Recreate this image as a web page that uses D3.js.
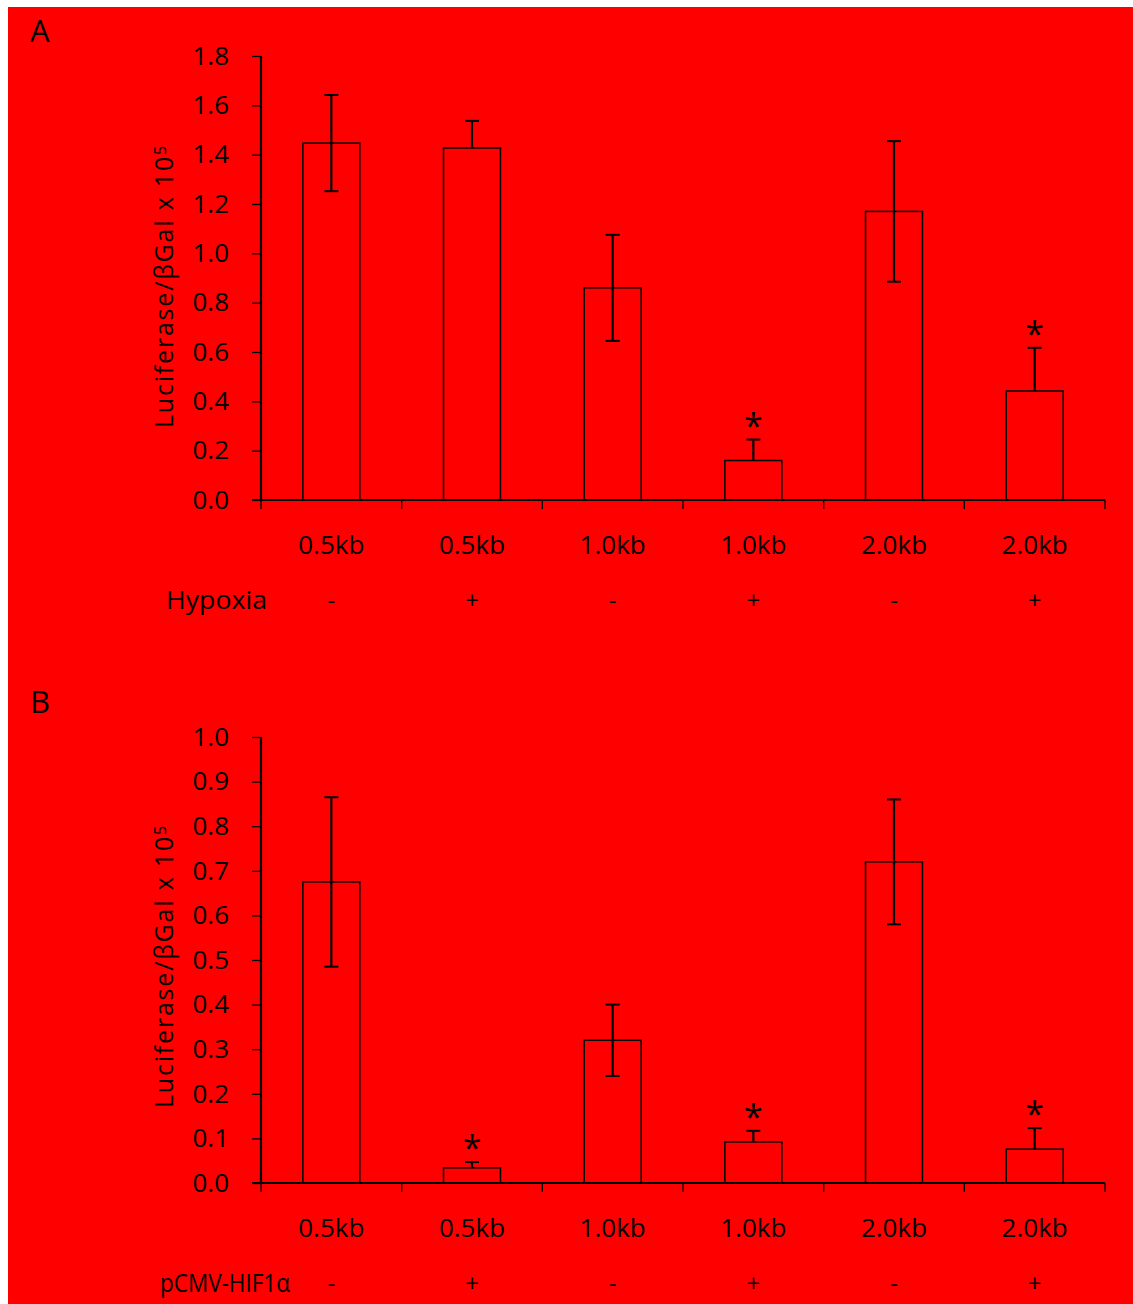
<!DOCTYPE html>
<html>
<head>
<meta charset="utf-8">
<script src="https://cdn.jsdelivr.net/npm/d3@7"></script>
<style>
  body { margin: 0; background: #fff; }
  text { font-family: "Open Sans", "Liberation Sans", Arial, sans-serif; fill: #000; }
</style>
</head>
<body>
<div id="myDiv"></div>
<script>
// Categories shared by both panels
var categories = ["0.5kb", "0.5kb", "1.0kb", "1.0kb", "2.0kb", "2.0kb"];
var signs = ["-", "+", "-", "+", "-", "+"];

// Panel A - hypoxia
var valuesA = [1.447, 1.427, 0.86, 0.16, 1.17, 0.442];
var errorsA = [0.195, 0.11, 0.215, 0.085, 0.285, 0.175];
var lowerA = [true, false, true, false, true, false];
var starsA = [false, false, false, true, false, true];
var ticksA = [0.0, 0.2, 0.4, 0.6, 0.8, 1.0, 1.2, 1.4, 1.6, 1.8];

// Panel B - pCMV-HIF1a
var valuesB = [0.675, 0.034, 0.32, 0.092, 0.72, 0.076];
var errorsB = [0.19, 0.013, 0.08, 0.025, 0.14, 0.047];
var lowerB = [true, false, true, false, true, false];
var starsB = [false, true, false, true, false, true];
var ticksB = [0.0, 0.1, 0.2, 0.3, 0.4, 0.5, 0.6, 0.7, 0.8, 0.9, 1.0];

var width = 1133;
var height = 1304;

var svg = d3.select("#myDiv")
    .append("svg")
    .attr("width", width)
    .attr("height", height);

// red background with the small white border top / left
svg.append("rect")
    .attr("x", 8).attr("y", 7)
    .attr("width", width - 8).attr("height", height - 7)
    .attr("fill", "#ff0000");

function drawPanel(opts) {
    var g = svg.append("g");

    var x = d3.scaleBand()
        .domain(d3.range(categories.length))
        .range([261, 1105])
        .paddingInner(0)
        .paddingOuter(0);

    var y = d3.scaleLinear()
        .domain([0, opts.max])
        .range([opts.bottom, opts.top]);

    var barW = x.bandwidth() * 0.405;

    // panel letter
    g.append("text")
        .attr("x", 30)
        .attr("y", opts.letterY)
        .attr("font-size", "31px")
        .text(opts.letter);

    // y axis
    var yAxis = d3.axisLeft(y)
        .tickValues(opts.ticks)
        .tickFormat(d3.format(".1f"))
        .tickSize(9)
        .tickPadding(23);

    var ya = g.append("g")
        .attr("transform", "translate(261,0)")
        .call(yAxis);
    ya.select(".domain").attr("stroke", "#000").attr("stroke-width", 2.2)
        .attr("d", "M0," + opts.top + "V" + opts.bottom);
    ya.selectAll(".tick line").attr("stroke", "#000").attr("stroke-width", 1.3);
    ya.selectAll(".tick text")
        .attr("font-size", "26px")
        .attr("font-family", "Open Sans, Liberation Sans, sans-serif")
        .attr("fill", "#000");

    // x axis line with ticks at the category boundaries
    g.append("line")
        .attr("x1", 252).attr("x2", 1105)
        .attr("y1", opts.bottom).attr("y2", opts.bottom)
        .attr("stroke", "#000").attr("stroke-width", 2.2);

    var bounds = d3.range(categories.length + 1).map(function (i) {
        return i < categories.length ? x(i) : x(i - 1) + x.bandwidth();
    });
    g.selectAll(".xtick")
        .data(bounds)
        .enter().append("line")
        .attr("class", "xtick")
        .attr("x1", function (d) { return d; })
        .attr("x2", function (d) { return d; })
        .attr("y1", opts.bottom)
        .attr("y2", opts.bottom + 9)
        .attr("stroke", "#000").attr("stroke-width", 1.3);

    // bars (outline only)
    g.selectAll(".bar")
        .data(opts.values)
        .enter().append("rect")
        .attr("class", "bar")
        .attr("x", function (d, i) { return x(i) + x.bandwidth() / 2 - barW / 2; })
        .attr("y", function (d) { return y(d); })
        .attr("width", barW)
        .attr("height", function (d) { return opts.bottom - y(d); })
        .attr("fill", "none")
        .attr("stroke", "#000")
        .attr("stroke-width", 1.5);

    // error bars
    opts.values.forEach(function (v, i) {
        var cx = x(i) + x.bandwidth() / 2;
        var hi = v + opts.errors[i];
        var lo = opts.lower[i] ? v - opts.errors[i] : v;
        g.append("line")
            .attr("x1", cx).attr("x2", cx)
            .attr("y1", y(hi)).attr("y2", y(lo))
            .attr("stroke", "#000").attr("stroke-width", 2.2);
        g.append("line")
            .attr("x1", cx - 7).attr("x2", cx + 7)
            .attr("y1", y(hi)).attr("y2", y(hi))
            .attr("stroke", "#000").attr("stroke-width", 2);
        if (opts.lower[i]) {
            g.append("line")
                .attr("x1", cx - 7).attr("x2", cx + 7)
                .attr("y1", y(lo)).attr("y2", y(lo))
                .attr("stroke", "#000").attr("stroke-width", 2);
        }
        // significance asterisk
        if (opts.stars[i]) {
            g.append("text")
                .attr("x", cx)
                .attr("y", y(hi) - 2)
                .attr("text-anchor", "middle")
                .attr("font-size", "34px")
                .text("*");
        }
    });

    // category labels
    g.selectAll(".cat")
        .data(categories)
        .enter().append("text")
        .attr("class", "cat")
        .attr("x", function (d, i) { return x(i) + x.bandwidth() / 2; })
        .attr("y", opts.bottom + 54)
        .attr("text-anchor", "middle")
        .attr("font-size", "26px")
        .text(function (d) { return d; });

    // treatment row
    g.append("text")
        .attr("x", opts.treatX)
        .attr("y", opts.bottom + 109)
        .attr("font-size", "26px")
        .attr("textLength", opts.treatW)
        .attr("lengthAdjust", "spacingAndGlyphs")
        .text(opts.treatment);

    g.selectAll(".sign")
        .data(signs)
        .enter().append("text")
        .attr("class", "sign")
        .attr("x", function (d, i) { return x(i) + x.bandwidth() / 2; })
        .attr("y", opts.bottom + 109)
        .attr("text-anchor", "middle")
        .attr("font-size", "24px")
        .text(function (d) { return d; });

    // y axis label
    var yl = g.append("text")
        .attr("transform", "translate(173," + opts.labelY + ") rotate(-90)")
        .attr("text-anchor", "middle")
        .attr("font-size", "25px")
        .attr("letter-spacing", "1.8px");
    yl.append("tspan").text("Luciferase/\u03b2Gal x 10");
    yl.append("tspan").attr("dy", "-0.45em").attr("font-size", "16px").text("5");
}

drawPanel({
    letter: "A", letterY: 42,
    max: 1.8, top: 56, bottom: 500,
    ticks: ticksA, values: valuesA, errors: errorsA, lower: lowerA, stars: starsA,
    treatment: "Hypoxia", treatX: 166, treatW: 101, labelY: 286
});

drawPanel({
    letter: "B", letterY: 713,
    max: 1.0, top: 737, bottom: 1183,
    ticks: ticksB, values: valuesB, errors: errorsB, lower: lowerB, stars: starsB,
    treatment: "pCMV-HIF1\u03b1", treatX: 160, treatW: 130, labelY: 966
});
</script>
</body>
</html>
